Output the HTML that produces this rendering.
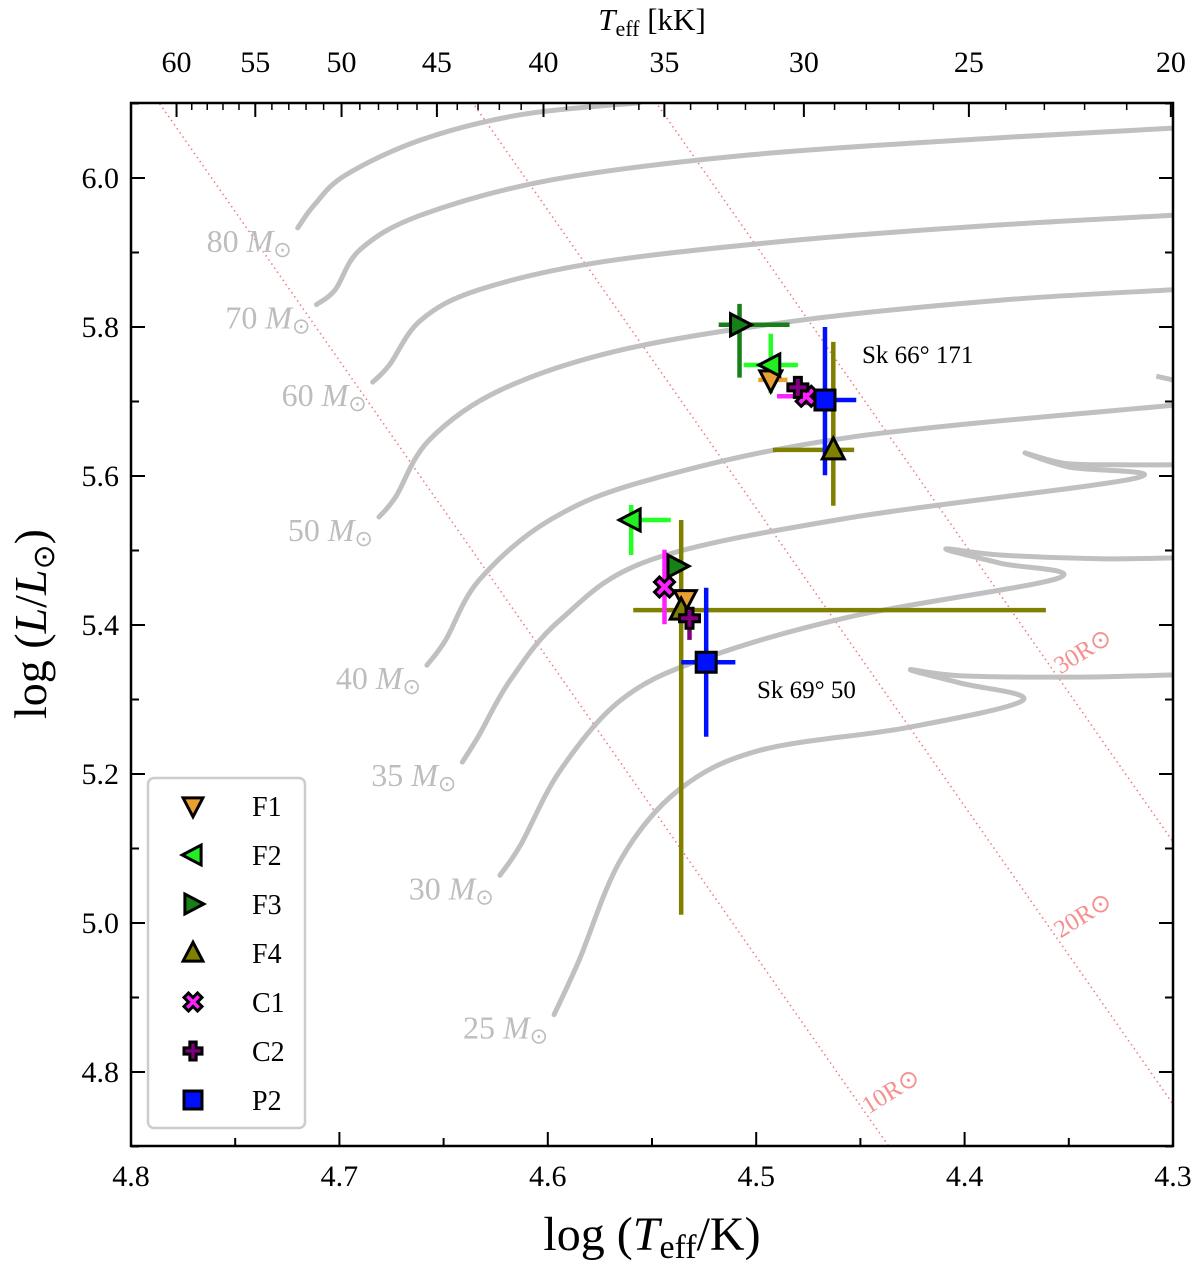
<!DOCTYPE html>
<html><head><meta charset="utf-8"><style>
html,body{margin:0;background:#fff;overflow:hidden;width:1200px;height:1265px}
svg{display:block;font-family:"Liberation Serif",serif}
</style></head><body>
<svg id="c" width="1200" height="1265"></svg>
<script>
const trackNames=["80","70","60","50","40","35","30","25"];
const trackT=[
[4.720,4.712,4.697,4.661,4.613,4.556],
[4.711,4.702,4.690,4.661,4.599,4.503,4.383,4.300],
[4.684,4.676,4.661,4.633,4.575,4.479,4.383,4.300],
[4.681,4.673,4.657,4.623,4.565,4.479,4.383,4.300],
[4.658,4.649,4.633,4.599,4.551,4.455,4.300],
[4.641,4.633,4.618,4.594,4.551,4.455,4.318,4.350,4.371,4.352,4.325,4.300],
[4.623,4.613,4.594,4.565,4.527,4.455,4.355,4.383,4.409,4.383,4.335,4.300],
[4.597,4.585,4.565,4.537,4.498,4.428,4.372,4.402,4.426,4.402,4.345,4.300]];
const trackL=[
[5.933,5.964,6.004,6.051,6.085,6.101],
[5.830,5.850,5.904,5.950,5.997,6.031,6.054,6.067],
[5.726,5.749,5.809,5.850,5.887,5.917,5.937,5.950],
[5.545,5.572,5.648,5.715,5.769,5.809,5.836,5.850],
[5.346,5.380,5.460,5.541,5.595,5.652,5.695],
[5.216,5.252,5.326,5.407,5.487,5.544,5.597,5.612,5.631,5.617,5.615,5.615],
[5.064,5.105,5.205,5.299,5.353,5.411,5.463,5.483,5.502,5.494,5.489,5.490],
[4.877,4.950,5.085,5.179,5.232,5.262,5.299,5.322,5.340,5.332,5.330,5.333]];
const loop40T=[4.308,4.300], loop40L=[5.734,5.729];
const radii=[10,20,30];
const series=["F1","F2","F3","F4","C1","C2","P2"];
const colors=["#e8a030","#22ee22","#188018","#808000","#ff20ff","#800080","#0010ff"];
const ecolors=["#e8a030","#22ff22","#188018","#808000","#ff20ff","#800080","#0010ff"];
const markers=["tdown","tleft","tright","tup","x","plus","sq"];
// [logT, logL, Tlo, Thi, Llo, Lhi]
const star1=[[4.493,5.729,4.499,4.485,null,null],[4.493,5.749,4.506,4.480,5.711,5.791],[4.508,5.803,4.518,4.484,5.732,5.831],[4.463,5.635,4.492,4.453,5.560,5.780],[4.476,5.707,4.490,4.475,5.695,5.720],[4.480,5.719,null,null,null,null],[4.467,5.702,4.470,4.452,5.601,5.800]];
const star2=[[4.534,5.434,null,null,null,null],[4.560,5.541,4.560,4.541,5.494,5.561],[4.538,5.479,null,null,null,null],[4.536,5.420,4.559,4.361,5.011,5.541],[4.544,5.451,null,null,5.401,5.501],[4.532,5.409,null,null,5.380,5.412],[4.524,5.350,4.536,4.510,5.250,5.450]];
const xTicks=[4.8,4.7,4.6,4.5,4.4,4.3];
const yTicks=[4.8,5.0,5.2,5.4,5.6,5.8,6.0];
const topTicks=[60,55,50,45,40,35,30,25,20];

const X0=131,X1=1173,Y0=103,Y1=1146;
const sx=t=>X0+(4.8-t)*2084;
const sy=l=>178+(6.0-l)*745;
const NS="http://www.w3.org/2000/svg";
const svg=document.getElementById('c');
function mk(tag,at,parent){const e=document.createElementNS(NS,tag);for(const k in at)e.setAttribute(k,at[k]);(parent||svg).appendChild(e);return e;}
const defs=mk('defs',{});const cp=mk('clipPath',{id:'clip'},defs);mk('rect',{x:X0,y:Y0,width:X1-X0,height:Y1-Y0},cp);
const g=mk('g',{'clip-path':'url(#clip)'});
radii.forEach(r=>{const L=t=>2*Math.log10(r)+4*(t-3.7613);
 const l=mk('line',{x1:sx(4.8),y1:sy(L(4.8)),x2:sx(4.3),y2:sy(L(4.3)),stroke:'#f08080','stroke-width':1.6,'stroke-dasharray':'1.5 3.5'},g);
 
 });
function pathOf(T,L){const p=T.map((t,i)=>[sx(t),sy(L[i])]);
 let d='M'+p[0][0].toFixed(1)+' '+p[0][1].toFixed(1);
 for(let i=0;i<p.length-1;i++){const p0=p[Math.max(i-1,0)],p1=p[i],p2=p[i+1],p3=p[Math.min(i+2,p.length-1)];
  const c1=[p1[0]+(p2[0]-p0[0])/6,p1[1]+(p2[1]-p0[1])/6],c2=[p2[0]-(p3[0]-p1[0])/6,p2[1]-(p3[1]-p1[1])/6];
  d+=` C${c1[0].toFixed(1)} ${c1[1].toFixed(1)} ${c2[0].toFixed(1)} ${c2[1].toFixed(1)} ${p2[0].toFixed(1)} ${p2[1].toFixed(1)}`;}
 return d;}
trackT.forEach((T,k)=>{const p=mk('path',{d:pathOf(T,trackL[k]),fill:'none',stroke:'#c0c0c0','stroke-width':5,'stroke-linejoin':'round','stroke-linecap':'round'},g);
 
 });
const lp=mk('path',{d:pathOf(loop40T,loop40L),fill:'none',stroke:'#c0c0c0','stroke-width':5},g);


trackT.forEach((T,k)=>{const t=mk('text',{x:sx(T[0])-6,y:sy(trackL[k][0])+24,'text-anchor':'end','font-size':32,fill:'#bdbdbd'});
 t.innerHTML=trackNames[k]+' <tspan font-style="italic">M</tspan><tspan font-size="22" dy="5">⊙</tspan>';
 
 });
[[895,1098],[1087,922],[1087,658]].forEach((p,i)=>{const t=mk('text',{x:p[0],y:p[1],'text-anchor':'middle','font-size':25,fill:'#f49090',transform:`rotate(-32 ${p[0]} ${p[1]})`});
 t.textContent=radii[i]+'R⊙';
 
 });
function marker(type,cx,cy,fill,parent,s){s=s||1;let e;const st={fill:fill,stroke:'#000','stroke-width':3,'stroke-linejoin':'miter'};
 const P=a=>a.map(q=>(cx+q[0]*s)+','+(cy+q[1]*s)).join(' ');
 if(type==='tdown')e=mk('polygon',Object.assign({points:P([[-11,-9],[11,-9],[0,12]])},st),parent);
 if(type==='tup')e=mk('polygon',Object.assign({points:P([[-11,9],[11,9],[0,-12]])},st),parent);
 if(type==='tleft')e=mk('polygon',Object.assign({points:P([[9,-11],[9,11],[-12,0]])},st),parent);
 if(type==='tright')e=mk('polygon',Object.assign({points:P([[-9,-11],[-9,11],[12,0]])},st),parent);
 if(type==='sq')e=mk('rect',Object.assign({x:cx-10*s,y:cy-10*s,width:20*s,height:20*s},st),parent);
 if(type==='plus')e=mk('polygon',Object.assign({points:P([[-3.5,-10],[3.5,-10],[3.5,-3.5],[10,-3.5],[10,3.5],[3.5,3.5],[3.5,10],[-3.5,10],[-3.5,3.5],[-10,3.5],[-10,-3.5],[-3.5,-3.5]])},st),parent);
 if(type==='x')e=mk('polygon',Object.assign({points:P([[-5,-10],[0,-5],[5,-10],[10,-5],[5,0],[10,5],[5,10],[0,5],[-5,10],[-10,5],[-5,0],[-10,-5]])},st),parent);
 return e;}
[star1,star2].forEach((star,si)=>{
 star.forEach((d,k)=>{const c=ecolors[k];
  if(d[2]!==null){const l=mk('line',{x1:sx(d[2]),y1:sy(d[1]),x2:sx(d[3]),y2:sy(d[1]),stroke:c,'stroke-width':4.5},g);
   
   }
  if(d[4]!==null){const l=mk('line',{x1:sx(d[0]),y1:sy(d[4]),x2:sx(d[0]),y2:sy(d[5]),stroke:c,'stroke-width':4.5},g);
   
   }
 });
 star.forEach((d,k)=>{const m=marker(markers[k],sx(d[0]),sy(d[1]),colors[k],g);
  
  });
});
const s1=mk('text',{x:862,y:363,'font-size':25,fill:'#000'});s1.textContent='Sk 66° 171';


const s2=mk('text',{x:757,y:698,'font-size':25,fill:'#000'});s2.textContent='Sk 69° 50';


const fr=mk('rect',{x:X0,y:Y0,width:X1-X0,height:Y1-Y0,fill:'none',stroke:'#000','stroke-width':2.5});


for(let v=4.3;v<=4.8001;v+=0.05){const x=sx(v),maj=Math.abs(v*10-Math.round(v*10))<0.01;const len=maj?14:8;
 mk('line',{x1:x,y1:Y1,x2:x,y2:Y1-len,stroke:'#000','stroke-width':2});}
xTicks.forEach(v=>{const t=mk('text',{x:sx(v),y:Y1+40,'text-anchor':'middle','font-size':30});t.textContent=v.toFixed(1);
 
 });
for(let v=4.7;v<=6.1001;v+=0.1){const y=sy(v);const maj=Math.round(v*10)%2===0;const len=maj?14:8;
 mk('line',{x1:X0,y1:y,x2:X0+len,y2:y,stroke:'#000','stroke-width':2});
 mk('line',{x1:X1,y1:y,x2:X1-len,y2:y,stroke:'#000','stroke-width':2});}
yTicks.forEach(v=>{const t=mk('text',{x:X0-12,y:sy(v)+10,'text-anchor':'end','font-size':30});t.textContent=v.toFixed(1);
 
 });
topTicks.forEach(v=>{const x=sx(Math.log10(v*1000));
 mk('line',{x1:x,y1:Y0,x2:x,y2:Y0+14,stroke:'#000','stroke-width':2});
 const t=mk('text',{x:x,y:Y0-31,'text-anchor':'middle','font-size':30});t.textContent=v;
 
 });
for(let v=21;v<60;v++){if(v%5===0)continue;const x=sx(Math.log10(v*1000));mk('line',{x1:x,y1:Y0,x2:x,y2:Y0+7,stroke:'#000','stroke-width':1.5});}
const xt=mk('text',{x:652,y:1250,'text-anchor':'middle','font-size':48});
xt.innerHTML='log (<tspan font-style="italic">T</tspan><tspan font-size="34" dy="8">eff</tspan><tspan dy="-8">/K)</tspan>';


const tt=mk('text',{x:652,y:30,'text-anchor':'middle','font-size':31});
tt.innerHTML='<tspan font-style="italic">T</tspan><tspan font-size="22" dy="6">eff</tspan><tspan dy="-6"> [kK]</tspan>';


const yt=mk('text',{x:0,y:0,'text-anchor':'middle','font-size':46,transform:'translate(46 624) rotate(-90)'});
yt.innerHTML='log (<tspan font-style="italic">L</tspan>/<tspan font-style="italic">L</tspan><tspan font-size="30" dy="8">⊙</tspan><tspan dy="-8">)</tspan>';


const lg=mk('g',{});


mk('rect',{x:148,y:778,width:157,height:350,rx:6,fill:'#fff',stroke:'#ccc','stroke-width':2.5},lg);
series.forEach((s,k)=>{const y=806+k*49;
 const m=marker(markers[k],193,y,colors[k],lg,0.9);
 
 
 const t=mk('text',{x:252,y:y+10,'font-size':28},lg);t.textContent=s;
 
 });
</script>
</body></html>
